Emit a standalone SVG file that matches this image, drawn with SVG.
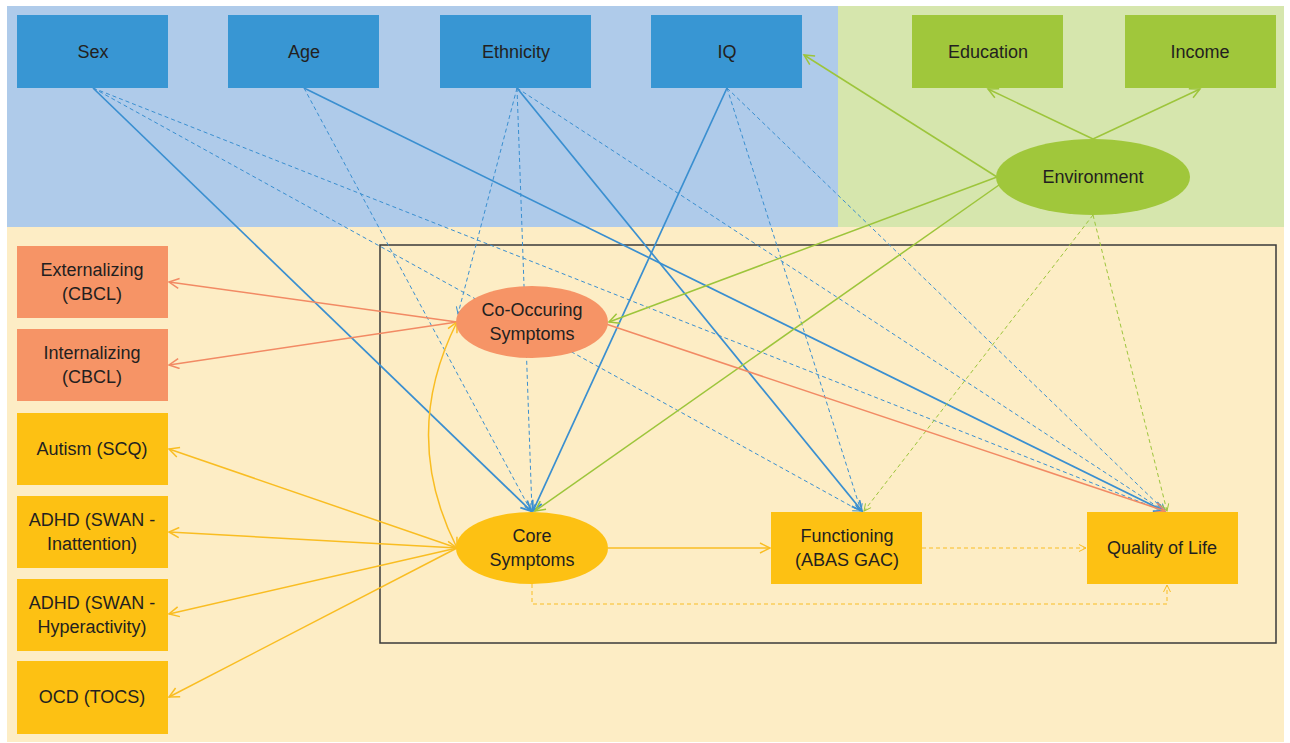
<svg xmlns="http://www.w3.org/2000/svg" width="1290" height="743" viewBox="0 0 1290 743">
<defs>
<style>
.t{font-family:"Liberation Sans",Arial,sans-serif;font-size:18px;fill:#231f20;text-anchor:middle}
.bn{fill:#3896d3}.gn{fill:#a0c73b}.on{fill:#f69466}.yn{fill:#fdc113}
.c{fill:none;stroke-width:1.5}
.d{fill:none;stroke-width:1;stroke-dasharray:4 3}
.b{stroke:#3a8fd0}.g{stroke:#9dc53b}.o{stroke:#f28a64}.y{stroke:#f9bd22}
.c.b{stroke-width:1.7}
</style>
<marker id="ab" markerUnits="userSpaceOnUse" markerWidth="14" markerHeight="12" refX="11" refY="6" orient="auto-start-reverse" viewBox="0 0 14 12"><path d="M1,1 L11,6 L1,11" fill="none" stroke="#3a8fd0" stroke-width="1.8"/></marker>
<marker id="abs" markerUnits="userSpaceOnUse" markerWidth="10" markerHeight="10" refX="8" refY="5" orient="auto" viewBox="0 0 10 10"><path d="M1,1.5 L8,5 L1,8.5" fill="none" stroke="#3a8fd0" stroke-width="1"/></marker>
<marker id="ag" markerUnits="userSpaceOnUse" markerWidth="14" markerHeight="12" refX="11" refY="6" orient="auto" viewBox="0 0 14 12"><path d="M1,1 L11,6 L1,11" fill="none" stroke="#9dc53b" stroke-width="1.5"/></marker>
<marker id="ags" markerUnits="userSpaceOnUse" markerWidth="10" markerHeight="10" refX="8" refY="5" orient="auto" viewBox="0 0 10 10"><path d="M1,1.5 L8,5 L1,8.5" fill="none" stroke="#9dc53b" stroke-width="1"/></marker>
<marker id="ao" markerUnits="userSpaceOnUse" markerWidth="14" markerHeight="12" refX="11" refY="6" orient="auto" viewBox="0 0 14 12"><path d="M1,1 L11,6 L1,11" fill="none" stroke="#f28a64" stroke-width="1.5"/></marker>
<marker id="ay" markerUnits="userSpaceOnUse" markerWidth="14" markerHeight="12" refX="11" refY="6" orient="auto-start-reverse" viewBox="0 0 14 12"><path d="M1,1 L11,6 L1,11" fill="none" stroke="#f9bd22" stroke-width="1.5"/></marker>
<marker id="ays" markerUnits="userSpaceOnUse" markerWidth="10" markerHeight="10" refX="8" refY="5" orient="auto" viewBox="0 0 10 10"><path d="M1,1.5 L8,5 L1,8.5" fill="none" stroke="#f9bd22" stroke-width="1"/></marker>
</defs>
<rect x="0" y="0" width="1290" height="743" fill="#ffffff"/>
<g id="panels">
<rect x="7" y="6" width="831" height="221" fill="#afcbea"/>
<rect x="838" y="6" width="446" height="221" fill="#d6e6ad"/>
<rect x="7" y="227" width="1277" height="515" fill="#fdedc5"/>
<rect x="380" y="245" width="896" height="398" fill="none" stroke="#3a3a3a" stroke-width="1.5"/>
</g>
<g id="connectors">
<line class="d b" x1="93" y1="88" x2="860" y2="511" marker-end="url(#abs)"/>
<line class="d b" x1="93" y1="88" x2="1163" y2="511" marker-end="url(#abs)"/>
<line class="d b" x1="304" y1="88" x2="531" y2="511" marker-end="url(#abs)"/>
<line class="d b" x1="517" y1="88" x2="458" y2="314" marker-end="url(#abs)"/>
<line class="d b" x1="517" y1="88" x2="532" y2="511" marker-end="url(#abs)"/>
<line class="d b" x1="517" y1="88" x2="1164" y2="511" marker-end="url(#abs)"/>
<line class="d b" x1="727" y1="88" x2="861" y2="511" marker-end="url(#abs)"/>
<line class="d b" x1="727" y1="88" x2="1165" y2="511" marker-end="url(#abs)"/>
<line class="c b" x1="93" y1="88" x2="531" y2="511" marker-end="url(#ab)"/>
<line class="c b" x1="304" y1="88" x2="1164" y2="511" marker-end="url(#ab)"/>
<line class="c b" x1="517" y1="88" x2="862" y2="511" marker-end="url(#ab)"/>
<line class="c b" x1="727" y1="88" x2="533" y2="511" marker-end="url(#ab)"/>
<line class="c g" x1="997" y1="177" x2="804" y2="55" marker-end="url(#ag)"/>
<line class="c g" x1="1093" y1="139" x2="988" y2="89" marker-end="url(#ag)"/>
<line class="c g" x1="1093" y1="139" x2="1200" y2="89" marker-end="url(#ag)"/>
<line class="c g" x1="997" y1="177" x2="609" y2="322" marker-end="url(#ag)"/>
<line class="c g" x1="999" y1="185" x2="535" y2="511" marker-end="url(#ag)"/>
<line class="d g" x1="1093" y1="215" x2="864" y2="511" marker-end="url(#ags)"/>
<line class="d g" x1="1093" y1="215" x2="1167" y2="511" marker-end="url(#ags)"/>
<line class="c o" x1="457" y1="322" x2="169" y2="282" marker-end="url(#ao)"/>
<line class="c o" x1="457" y1="322" x2="169" y2="365" marker-end="url(#ao)"/>
<line class="c o" x1="606" y1="324" x2="1165" y2="511" marker-end="url(#ao)"/>
<line class="c y" x1="457" y1="548" x2="169" y2="449" marker-end="url(#ay)"/>
<line class="c y" x1="457" y1="548" x2="169" y2="532" marker-end="url(#ay)"/>
<line class="c y" x1="457" y1="548" x2="169" y2="614" marker-end="url(#ay)"/>
<line class="c y" x1="457" y1="548" x2="169" y2="697" marker-end="url(#ay)"/>
<path class="c y" d="M457,322 Q400,435 457,548" marker-start="url(#ay)" marker-end="url(#ay)"/>
<line class="c y" x1="608" y1="548" x2="770" y2="548" marker-end="url(#ay)"/>
<line class="d y" x1="922" y1="548" x2="1086" y2="548" marker-end="url(#ays)"/>
<path class="d y" d="M532,584 V604 H1167 V585" marker-end="url(#ays)"/>
</g>
<g id="sex"><rect class="bn" x="17" y="15" width="151" height="73"/><text class="t" x="93" y="58">Sex</text></g>
<g id="age"><rect class="bn" x="228" y="15" width="151" height="73"/><text class="t" x="304" y="58">Age</text></g>
<g id="ethnicity"><rect class="bn" x="440" y="15" width="151" height="73"/><text class="t" x="516" y="58">Ethnicity</text></g>
<g id="iq"><rect class="bn" x="651" y="15" width="151" height="73"/><text class="t" x="727" y="58">IQ</text></g>
<g id="education"><rect class="gn" x="912" y="15" width="151" height="73"/><text class="t" x="988" y="58">Education</text></g>
<g id="income"><rect class="gn" x="1125" y="15" width="151" height="73"/><text class="t" x="1200" y="58">Income</text></g>
<g id="environment"><ellipse class="gn" cx="1093" cy="177" rx="97" ry="38"/><text class="t" x="1093" y="183">Environment</text></g>
<g id="externalizing"><rect class="on" x="17" y="246" width="151" height="72"/><text class="t" x="92" y="276">Externalizing</text><text class="t" x="92" y="300">(CBCL)</text></g>
<g id="internalizing"><rect class="on" x="17" y="329" width="151" height="72"/><text class="t" x="92" y="359">Internalizing</text><text class="t" x="92" y="383">(CBCL)</text></g>
<g id="autism"><rect class="yn" x="17" y="413" width="151" height="72"/><text class="t" x="92" y="455">Autism (SCQ)</text></g>
<g id="adhd-inattention"><rect class="yn" x="17" y="496" width="151" height="72"/><text class="t" x="92" y="526">ADHD (SWAN -</text><text class="t" x="92" y="550">Inattention)</text></g>
<g id="adhd-hyperactivity"><rect class="yn" x="17" y="579" width="151" height="72"/><text class="t" x="92" y="609">ADHD (SWAN -</text><text class="t" x="92" y="633">Hyperactivity)</text></g>
<g id="ocd"><rect class="yn" x="17" y="661" width="151" height="73"/><text class="t" x="92" y="703">OCD (TOCS)</text></g>
<g id="co-occuring"><ellipse class="on" cx="532" cy="322" rx="76" ry="36"/><text class="t" x="532" y="316">Co-Occuring</text><text class="t" x="532" y="340">Symptoms</text></g>
<g id="core"><ellipse class="yn" cx="532" cy="548" rx="76" ry="36"/><text class="t" x="532" y="542">Core</text><text class="t" x="532" y="566">Symptoms</text></g>
<g id="functioning"><rect class="yn" x="771" y="512" width="151" height="72"/><text class="t" x="847" y="542">Functioning</text><text class="t" x="847" y="566">(ABAS GAC)</text></g>
<g id="qol"><rect class="yn" x="1087" y="512" width="151" height="72"/><text class="t" x="1162" y="554">Quality of Life</text></g>
</svg>
